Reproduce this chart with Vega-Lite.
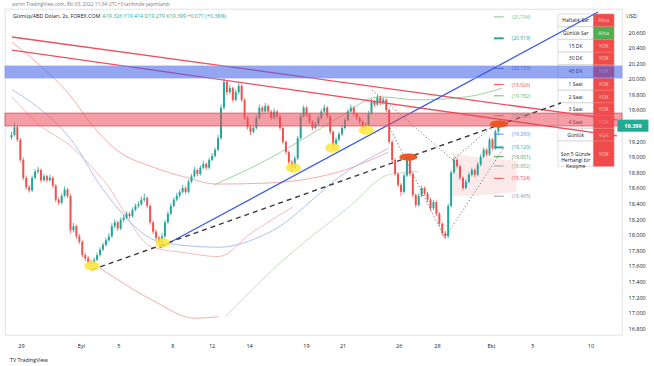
{
"$schema": "https://vega.github.io/schema/vega-lite/v6.json",
"width": 617, "height": 326,
"autosize": {"type": "none"},
"padding": {"left": 5, "top": 9, "right": 32, "bottom": 31},
"background": "#ffffff",
"config": {"view": {"stroke": "#d1d4dc", "strokeWidth": 0.7}, "font": "Open Sans", "axis": {"labelOverlap": false, "labelFontSize": 5.5, "labelColor": "#131722", "ticks": false, "grid": false, "domain": false}},
"datasets": {
"cd": [
{"i":0,"o":19.25,"h":19.32,"l":19.22,"c":19.28},{"i":1,"o":19.28,"h":19.44,"l":19.26,"c":19.38},{"i":2,"o":19.38,"h":19.41,"l":19.19,"c":19.22},{"i":3,"o":19.22,"h":19.24,"l":18.93,"c":18.96},{"i":4,"o":18.96,"h":18.99,"l":18.70,"c":18.73},{"i":5,"o":18.73,"h":18.76,"l":18.58,"c":18.61},{"i":6,"o":18.61,"h":18.64,"l":18.54,"c":18.57},{"i":7,"o":18.57,"h":18.76,"l":18.55,"c":18.73},{"i":8,"o":18.73,"h":18.84,"l":18.71,"c":18.81},{"i":9,"o":18.81,"h":18.87,"l":18.78,"c":18.83},
{"i":10,"o":18.83,"h":18.85,"l":18.67,"c":18.70},{"i":11,"o":18.70,"h":18.78,"l":18.68,"c":18.75},{"i":12,"o":18.75,"h":18.77,"l":18.67,"c":18.70},{"i":13,"o":18.70,"h":18.77,"l":18.68,"c":18.73},{"i":14,"o":18.73,"h":18.75,"l":18.60,"c":18.63},{"i":15,"o":18.63,"h":18.65,"l":18.42,"c":18.45},{"i":16,"o":18.45,"h":18.48,"l":18.38,"c":18.41},{"i":17,"o":18.41,"h":18.53,"l":18.39,"c":18.50},{"i":18,"o":18.50,"h":18.62,"l":18.48,"c":18.58},{"i":19,"o":18.58,"h":18.60,"l":18.47,"c":18.50},
{"i":20,"o":18.50,"h":18.52,"l":18.02,"c":18.06},{"i":21,"o":18.06,"h":18.15,"l":18.03,"c":18.11},{"i":22,"o":18.11,"h":18.13,"l":17.95,"c":17.98},{"i":23,"o":17.98,"h":18.01,"l":17.88,"c":17.91},{"i":24,"o":17.91,"h":17.93,"l":17.71,"c":17.74},{"i":25,"o":17.74,"h":17.77,"l":17.66,"c":17.70},{"i":26,"o":17.70,"h":17.73,"l":17.61,"c":17.65},{"i":27,"o":17.65,"h":17.68,"l":17.56,"c":17.63},{"i":28,"o":17.63,"h":17.71,"l":17.60,"c":17.68},{"i":29,"o":17.68,"h":17.77,"l":17.66,"c":17.74},
{"i":30,"o":17.74,"h":17.84,"l":17.72,"c":17.81},{"i":31,"o":17.81,"h":17.90,"l":17.79,"c":17.87},{"i":32,"o":17.87,"h":17.96,"l":17.85,"c":17.93},{"i":33,"o":17.93,"h":18.02,"l":17.91,"c":17.98},{"i":34,"o":17.98,"h":18.15,"l":17.96,"c":18.11},{"i":35,"o":18.11,"h":18.20,"l":18.08,"c":18.16},{"i":36,"o":18.16,"h":18.18,"l":18.05,"c":18.08},{"i":37,"o":18.08,"h":18.22,"l":18.06,"c":18.19},{"i":38,"o":18.19,"h":18.26,"l":18.16,"c":18.22},{"i":39,"o":18.22,"h":18.30,"l":18.20,"c":18.27},
{"i":40,"o":18.27,"h":18.29,"l":18.21,"c":18.24},{"i":41,"o":18.24,"h":18.35,"l":18.22,"c":18.32},{"i":42,"o":18.32,"h":18.40,"l":18.30,"c":18.37},{"i":43,"o":18.37,"h":18.43,"l":18.34,"c":18.39},{"i":44,"o":18.39,"h":18.49,"l":18.37,"c":18.45},{"i":45,"o":18.45,"h":18.53,"l":18.42,"c":18.47},{"i":46,"o":18.47,"h":18.49,"l":18.34,"c":18.37},{"i":47,"o":18.37,"h":18.39,"l":18.13,"c":18.16},{"i":48,"o":18.16,"h":18.18,"l":18.01,"c":18.04},{"i":49,"o":18.04,"h":18.07,"l":17.93,"c":17.96},
{"i":50,"o":17.96,"h":17.99,"l":17.85,"c":17.91},{"i":51,"o":17.91,"h":18.02,"l":17.88,"c":17.98},{"i":52,"o":17.98,"h":18.19,"l":17.96,"c":18.16},{"i":53,"o":18.16,"h":18.30,"l":18.14,"c":18.27},{"i":54,"o":18.27,"h":18.40,"l":18.25,"c":18.37},{"i":55,"o":18.37,"h":18.48,"l":18.35,"c":18.45},{"i":56,"o":18.45,"h":18.54,"l":18.43,"c":18.50},{"i":57,"o":18.50,"h":18.58,"l":18.47,"c":18.55},{"i":58,"o":18.55,"h":18.64,"l":18.53,"c":18.60},{"i":59,"o":18.60,"h":18.62,"l":18.52,"c":18.55},
{"i":60,"o":18.55,"h":18.71,"l":18.53,"c":18.68},{"i":61,"o":18.68,"h":18.78,"l":18.66,"c":18.75},{"i":62,"o":18.75,"h":18.87,"l":18.73,"c":18.83},{"i":63,"o":18.83,"h":18.85,"l":18.75,"c":18.78},{"i":64,"o":18.78,"h":18.89,"l":18.76,"c":18.86},{"i":65,"o":18.86,"h":18.95,"l":18.84,"c":18.91},{"i":66,"o":18.91,"h":18.93,"l":18.83,"c":18.86},{"i":67,"o":18.86,"h":18.99,"l":18.84,"c":18.96},{"i":68,"o":18.96,"h":19.05,"l":18.94,"c":19.01},{"i":69,"o":19.01,"h":19.12,"l":18.99,"c":19.09},
{"i":70,"o":19.09,"h":19.28,"l":19.07,"c":19.24},{"i":71,"o":19.24,"h":19.67,"l":19.22,"c":19.63},{"i":72,"o":19.63,"h":20.01,"l":19.60,"c":19.96},{"i":73,"o":19.96,"h":19.98,"l":19.79,"c":19.83},{"i":74,"o":19.83,"h":19.92,"l":19.80,"c":19.88},{"i":75,"o":19.88,"h":19.90,"l":19.70,"c":19.73},{"i":76,"o":19.73,"h":19.86,"l":19.71,"c":19.83},{"i":77,"o":19.83,"h":19.95,"l":19.80,"c":19.91},{"i":78,"o":19.91,"h":19.93,"l":19.70,"c":19.73},{"i":79,"o":19.73,"h":19.75,"l":19.47,"c":19.50},
{"i":80,"o":19.50,"h":19.52,"l":19.35,"c":19.38},{"i":81,"o":19.38,"h":19.41,"l":19.28,"c":19.32},{"i":82,"o":19.32,"h":19.40,"l":19.30,"c":19.37},{"i":83,"o":19.37,"h":19.53,"l":19.35,"c":19.50},{"i":84,"o":19.50,"h":19.67,"l":19.48,"c":19.63},{"i":85,"o":19.63,"h":19.65,"l":19.55,"c":19.58},{"i":86,"o":19.58,"h":19.69,"l":19.56,"c":19.65},{"i":87,"o":19.65,"h":19.67,"l":19.55,"c":19.58},{"i":88,"o":19.58,"h":19.60,"l":19.47,"c":19.50},{"i":89,"o":19.50,"h":19.62,"l":19.48,"c":19.58},
{"i":90,"o":19.58,"h":19.60,"l":19.49,"c":19.52},{"i":91,"o":19.52,"h":19.54,"l":19.34,"c":19.37},{"i":92,"o":19.37,"h":19.39,"l":19.16,"c":19.19},{"i":93,"o":19.19,"h":19.21,"l":19.03,"c":19.06},{"i":94,"o":19.06,"h":19.08,"l":18.90,"c":18.93},{"i":95,"o":18.93,"h":18.96,"l":18.80,"c":18.86},{"i":96,"o":18.86,"h":19.01,"l":18.84,"c":18.98},{"i":97,"o":18.98,"h":19.27,"l":18.96,"c":19.24},{"i":98,"o":19.24,"h":19.55,"l":19.22,"c":19.52},{"i":99,"o":19.52,"h":19.66,"l":19.50,"c":19.63},
{"i":100,"o":19.63,"h":19.65,"l":19.51,"c":19.54},{"i":101,"o":19.54,"h":19.56,"l":19.42,"c":19.45},{"i":102,"o":19.45,"h":19.47,"l":19.34,"c":19.37},{"i":103,"o":19.37,"h":19.45,"l":19.35,"c":19.42},{"i":104,"o":19.42,"h":19.53,"l":19.40,"c":19.50},{"i":105,"o":19.50,"h":19.61,"l":19.48,"c":19.58},{"i":106,"o":19.58,"h":19.67,"l":19.56,"c":19.63},{"i":107,"o":19.63,"h":19.65,"l":19.49,"c":19.52},{"i":108,"o":19.52,"h":19.54,"l":19.29,"c":19.32},{"i":109,"o":19.32,"h":19.34,"l":19.09,"c":19.15},
{"i":110,"o":19.15,"h":19.25,"l":19.13,"c":19.22},{"i":111,"o":19.22,"h":19.32,"l":19.20,"c":19.29},{"i":112,"o":19.29,"h":19.40,"l":19.27,"c":19.37},{"i":113,"o":19.37,"h":19.50,"l":19.35,"c":19.47},{"i":114,"o":19.47,"h":19.61,"l":19.45,"c":19.58},{"i":115,"o":19.58,"h":19.67,"l":19.56,"c":19.63},{"i":116,"o":19.63,"h":19.65,"l":19.52,"c":19.55},{"i":117,"o":19.55,"h":19.57,"l":19.47,"c":19.50},{"i":118,"o":19.50,"h":19.52,"l":19.42,"c":19.45},{"i":119,"o":19.45,"h":19.47,"l":19.33,"c":19.37},
{"i":120,"o":19.37,"h":19.44,"l":19.35,"c":19.41},{"i":121,"o":19.41,"h":19.59,"l":19.39,"c":19.56},{"i":122,"o":19.56,"h":19.74,"l":19.54,"c":19.71},{"i":123,"o":19.71,"h":19.73,"l":19.64,"c":19.67},{"i":124,"o":19.67,"h":19.79,"l":19.65,"c":19.76},{"i":125,"o":19.76,"h":19.78,"l":19.66,"c":19.69},{"i":126,"o":19.69,"h":19.76,"l":19.67,"c":19.73},{"i":127,"o":19.73,"h":19.75,"l":19.57,"c":19.60},{"i":128,"o":19.60,"h":19.62,"l":19.16,"c":19.19},{"i":129,"o":19.19,"h":19.21,"l":18.93,"c":18.96},
{"i":130,"o":18.96,"h":18.98,"l":18.75,"c":18.78},{"i":131,"o":18.78,"h":18.80,"l":18.61,"c":18.64},{"i":132,"o":18.64,"h":18.66,"l":18.50,"c":18.55},{"i":133,"o":18.55,"h":18.79,"l":18.53,"c":18.76},{"i":134,"o":18.76,"h":19.00,"l":18.74,"c":18.96},{"i":135,"o":18.96,"h":18.98,"l":18.75,"c":18.78},{"i":136,"o":18.78,"h":18.80,"l":18.48,"c":18.51},{"i":137,"o":18.51,"h":18.53,"l":18.35,"c":18.38},{"i":138,"o":18.38,"h":18.53,"l":18.36,"c":18.50},{"i":139,"o":18.50,"h":18.63,"l":18.48,"c":18.60},
{"i":140,"o":18.60,"h":18.62,"l":18.50,"c":18.53},{"i":141,"o":18.53,"h":18.55,"l":18.42,"c":18.45},{"i":142,"o":18.45,"h":18.47,"l":18.31,"c":18.34},{"i":143,"o":18.34,"h":18.45,"l":18.32,"c":18.42},{"i":144,"o":18.42,"h":18.44,"l":18.24,"c":18.27},{"i":145,"o":18.27,"h":18.29,"l":18.11,"c":18.14},{"i":146,"o":18.14,"h":18.16,"l":17.99,"c":18.02},{"i":147,"o":18.02,"h":18.05,"l":17.95,"c":17.98},{"i":148,"o":17.98,"h":18.40,"l":17.96,"c":18.37},{"i":149,"o":18.37,"h":18.83,"l":18.35,"c":18.80},
{"i":150,"o":18.80,"h":18.99,"l":18.78,"c":18.96},{"i":151,"o":18.96,"h":18.98,"l":18.85,"c":18.88},{"i":152,"o":18.88,"h":18.90,"l":18.70,"c":18.73},{"i":153,"o":18.73,"h":18.75,"l":18.57,"c":18.60},{"i":154,"o":18.60,"h":18.71,"l":18.58,"c":18.68},{"i":155,"o":18.68,"h":18.80,"l":18.66,"c":18.77},{"i":156,"o":18.77,"h":18.86,"l":18.75,"c":18.83},{"i":157,"o":18.83,"h":18.85,"l":18.74,"c":18.77},{"i":158,"o":18.77,"h":18.93,"l":18.75,"c":18.90},{"i":159,"o":18.90,"h":19.03,"l":18.88,"c":19.00},
{"i":160,"o":19.00,"h":19.12,"l":18.98,"c":19.09},{"i":161,"o":19.09,"h":19.11,"l":19.00,"c":19.03},{"i":162,"o":19.03,"h":19.25,"l":19.01,"c":19.22},{"i":163,"o":19.22,"h":19.24,"l":19.08,"c":19.11},{"i":164,"o":19.11,"h":19.35,"l":19.09,"c":19.326},{"i":165,"o":19.326,"h":19.414,"l":19.279,"c":19.399}
],
"ind": [
{"s":"R1","i":0.2,"p":20.47},{"s":"R1","i":8.8,"p":20.2},{"s":"R1","i":20.2,"p":19.77},{"s":"R1","i":26.8,"p":19.43},{"s":"R1","i":35.5,"p":19.09},{"s":"R1","i":47.8,"p":18.87},{"s":"R1","i":58.8,"p":18.74},{"s":"R1","i":69.5,"p":18.65},{"s":"R1","i":84.5,"p":18.66},{"s":"R1","i":97.8,"p":18.7},{"s":"R1","i":111.2,"p":18.81},{"s":"R1","i":127.8,"p":19.06},
{"s":"R2","i":0.2,"p":19.77},{"s":"R2","i":8.8,"p":19.43},{"s":"R2","i":20.2,"p":19.13},{"s":"R2","i":31.2,"p":18.7},{"s":"R2","i":47.8,"p":17.84},{"s":"R2","i":58.8,"p":17.77},{"s":"R2","i":70.2,"p":17.72},{"s":"R2","i":81.2,"p":18.02},{"s":"R2","i":95.5,"p":18.36},
{"s":"BL","i":0.2,"p":19.86},{"s":"BL","i":8.8,"p":19.64},{"s":"BL","i":20.2,"p":19.22},{"s":"BL","i":31.2,"p":18.57},{"s":"BL","i":51.2,"p":17.9},{"s":"BL","i":70.2,"p":17.84},{"s":"BL","i":86.8,"p":18.02},{"s":"BL","i":114.5,"p":18.83},{"s":"BL","i":127.8,"p":19.11},
{"s":"R3","i":26.8,"p":17.65},{"s":"R3","i":34.5,"p":17.46},{"s":"R3","i":47.8,"p":17.16},{"s":"R3","i":62.2,"p":16.93},{"s":"R3","i":70.2,"p":16.95},
{"s":"G2","i":72.5,"p":16.95},{"s":"G2","i":92.2,"p":17.68},{"s":"G2","i":114.5,"p":18.36},{"s":"G2","i":127.8,"p":18.77},{"s":"G2","i":137.8,"p":18.81},
{"s":"G1","i":68.8,"p":18.64},{"s":"G1","i":72.2,"p":18.7},{"s":"G1","i":84.5,"p":18.92},{"s":"G1","i":94.5,"p":19.13},{"s":"G1","i":111.2,"p":19.51},{"s":"G1","i":124.5,"p":19.77},{"s":"G1","i":137.8,"p":19.73},{"s":"G1","i":154.5,"p":19.77},{"s":"G1","i":166.2,"p":19.88}
],
"tl": [
{"g":"A","i":0.2,"p":20.536},{"g":"A","i":205.2,"p":19.472},
{"g":"B","i":0.2,"p":20.369},{"g":"B","i":205.2,"p":19.267},
{"g":"U","i":50.2,"p":17.83},{"g":"U","i":198.8,"p":20.856}
],
"dash": [{"i":27.2,"p":17.55},{"i":186.2,"p":19.69}],
"dot": [
{"g":"a","i":122.2,"p":19.856},{"g":"a","i":149.5,"p":18.959},
{"g":"b","i":149.5,"p":18.959},{"g":"b","i":165.5,"p":19.472},
{"g":"c","i":127.8,"p":19.408},{"g":"c","i":146.8,"p":17.959},
{"g":"d","i":146.8,"p":17.959},{"g":"d","i":166.8,"p":19.113}
],
"bands": [{"b":"red","p1":19.395,"p2":19.56},{"b":"blue","p1":20.01,"p2":20.164}],
"yel": [{"i":27.2,"p":17.6},{"i":51.2,"p":17.895},{"i":95.5,"p":18.856},{"i":108.8,"p":19.113},{"i":120.2,"p":19.34}],
"org": [{"i":134.5,"p":18.997},{"i":165.2,"p":19.42}],
"lv": [{"lab":"(20.794)","p":20.794},{"lab":"(20.519)","p":20.519},{"lab":"(20.133)","p":20.133},{"lab":"(19.926)","p":19.926},{"lab":"(19.782)","p":19.782},{"lab":"(19.527)","p":19.527},{"lab":"(19.290)","p":19.29},{"lab":"(19.120)","p":19.12},{"lab":"(19.001)","p":19.001},{"lab":"(18.882)","p":18.882},{"lab":"(18.724)","p":18.724},{"lab":"(18.495)","p":18.495}],
"ann": [
{"k":"hdr","t":"asrnn TradingView.com, Eki 03, 2022 11:34 UTC+3 tarihinde yayımlandı","i":0.2,"p":20.946},
{"k":"sym","t":"Gümüş/ABD Doları, 2s, FOREX.COM","i":0.5,"p":20.805},
{"k":"ohlc","t":"A19.326  Y19.414  D19.279  K19.399  +0.071 (+0.38%)","i":30.8,"p":20.805},
{"k":"usd","t":"USD","i":208.3,"p":20.805},
{"k":"tv","t":"TV TradingView","i":-0.5,"p":16.395}
],
"cloud": [{"i":149.5,"a":19.05,"b":18.5},{"i":156,"a":19.0,"b":18.5},{"i":163,"a":18.98,"b":18.52},{"i":171.2,"a":18.95,"b":18.55}],
"tb": [
{"pt":20.831,"pb":20.668,"lab":"Haftalık Sar","st":"Altta","g":"r"},
{"pt":20.668,"pb":20.505,"lab":"Günlük Sar","st":"Altta","g":"g"},
{"pt":20.505,"pb":20.342,"lab":"15 DK","st":"YOK","g":"r"},
{"pt":20.342,"pb":20.18,"lab":"30 DK","st":"YOK","g":"r"},
{"pt":20.18,"pb":20.017,"lab":"45 DK","st":"YOK","g":"r"},
{"pt":20.017,"pb":19.854,"lab":"1 Saat","st":"YOK","g":"r"},
{"pt":19.854,"pb":19.691,"lab":"2 Saat","st":"YOK","g":"r"},
{"pt":19.691,"pb":19.528,"lab":"3 Saat","st":"YOK","g":"r"},
{"pt":19.528,"pb":19.365,"lab":"4 Saat","st":"YOK","g":"r"},
{"pt":19.365,"pb":19.202,"lab":"Günlük","st":"YOK","g":"r"},
{"pt":19.202,"pb":18.877,"lab":"Son 5 Günde\nHerhangi bir\nKesişme","st":"YOK","g":"r"}
],
"last": [{"p":19.399,"lab":"19.399"}]
},
"resolve": {"scale": {"color": "independent"}},
"layer": [
{"data": {"name": "cloud"},
 "mark": {"type": "area", "color": "#f6c1c1", "opacity": 0.35},
 "encoding": {
  "x": {"field": "i", "type": "quantitative", "scale": {"domain": [-0.5, 205.2], "nice": false, "zero": false},
   "axis": {"values": [3.2,23.5,36.2,54.5,67.8,80.5,99.8,112.2,131.2,144.2,162.5,176.5,196.2], "tickCount": 40,
    "labelExpr": "datum.value < 12 ? '29' : datum.value < 30 ? 'Eyl' : datum.value < 45 ? '5' : datum.value < 60 ? '8' : datum.value < 74 ? '12' : datum.value < 90 ? '14' : datum.value < 105 ? '19' : datum.value < 120 ? '21' : datum.value < 138 ? '26' : datum.value < 150 ? '28' : datum.value < 170 ? 'Ekt' : datum.value < 185 ? '5' : '10'",
    "title": null, "ticks": false, "domain": false, "grid": false, "labelFontSize": 5.5, "labelColor": "#131722", "labelPadding": 8, "labelFlush": false, "labelOverlap": false}},
  "y": {"field": "a", "type": "quantitative", "scale": {"domain": [16.715, 20.895], "nice": false, "zero": false},
   "axis": {"orient": "right", "values": [16.8,17,17.2,17.4,17.6,17.8,18,18.2,18.4,18.6,18.8,19,19.2,19.6,19.8,20,20.2,20.4,20.6], "tickCount": 40, "format": ".3f", "title": null, "ticks": false, "grid": false, "domain": false, "labelFontSize": 5.5, "labelColor": "#131722", "labelPadding": 6, "labelOverlap": false, "labelFlush": false, "labelBound": false}},
  "y2": {"field": "b"}}},
{"data": {"name": "ind"},
 "mark": {"type": "line", "strokeWidth": 0.9, "interpolate": "monotone"},
 "encoding": {
  "x": {"field": "i", "type": "quantitative", "axis": {"title": null}},
  "y": {"field": "p", "type": "quantitative", "axis": {"title": null, "orient": "right"}},
  "color": {"field": "s", "type": "nominal", "scale": {"domain": ["R1","R2","BL","R3","G2","G1"], "range": ["#f4a3a3","#f7b3b3","#a9b8f2","#f4a3a3","#b9ddbb","#94cc98"]}, "legend": null}}},
{"data": {"name": "cd"},
 "mark": {"type": "rule", "strokeWidth": 0.8},
 "encoding": {
  "x": {"field": "i", "type": "quantitative", "axis": {"title": null}},
  "y": {"field": "l", "type": "quantitative", "axis": {"title": null, "orient": "right"}},
  "y2": {"field": "h"},
  "color": {"condition": {"test": "datum.c >= datum.o", "value": "#26a69a"}, "value": "#ef5350"}}},
{"data": {"name": "cd"},
 "mark": {"type": "bar", "width": 2},
 "encoding": {
  "x": {"field": "i", "type": "quantitative", "axis": {"title": null}},
  "y": {"field": "o", "type": "quantitative", "axis": {"title": null, "orient": "right"}},
  "y2": {"field": "c"},
  "color": {"condition": {"test": "datum.c >= datum.o", "value": "#26a69a"}, "value": "#ef5350"}}},
{"data": {"name": "tb"},
 "mark": {"type": "rect", "fill": "#ffffff", "stroke": "#c9c9c9", "strokeWidth": 0.6},
 "encoding": {
  "x": {"datum": 185.2, "type": "quantitative", "axis": {"title": null}},
  "x2": {"datum": 197.2},
  "y": {"field": "pt", "type": "quantitative", "axis": {"title": null, "orient": "right"}},
  "y2": {"field": "pb"}}},
{"data": {"name": "tb"},
 "mark": {"type": "rect", "stroke": "#f27a7a", "strokeWidth": 0.5},
 "encoding": {
  "x": {"datum": 197.2, "type": "quantitative", "axis": {"title": null}},
  "x2": {"datum": 204.2},
  "y": {"field": "pt", "type": "quantitative", "axis": {"title": null, "orient": "right"}},
  "y2": {"field": "pb"},
  "fill": {"condition": {"test": "datum.g == 'g'", "value": "#4caf50"}, "value": "#ef4b4b"}}},
{"data": {"name": "tb"},
 "transform": [{"calculate": "(datum.pt + datum.pb) / 2", "as": "pm"}],
 "mark": {"type": "text", "fontSize": 5, "color": "#131722", "lineBreak": "\n", "lineHeight": 6, "baseline": "middle"},
 "encoding": {
  "x": {"datum": 191.2, "type": "quantitative", "axis": {"title": null}},
  "y": {"field": "pm", "type": "quantitative", "axis": {"title": null, "orient": "right"}},
  "text": {"field": "lab"}}},
{"data": {"name": "tb"},
 "transform": [{"calculate": "(datum.pt + datum.pb) / 2", "as": "pm"}],
 "mark": {"type": "text", "fontSize": 5, "baseline": "middle"},
 "encoding": {
  "x": {"datum": 200.7, "type": "quantitative", "axis": {"title": null}},
  "y": {"field": "pm", "type": "quantitative", "axis": {"title": null, "orient": "right"}},
  "text": {"field": "st"},
  "color": {"condition": {"test": "datum.g == 'g'", "value": "#d6f5d6"}, "value": "#ffc9c9"}}},
{"data": {"name": "tl"},
 "mark": {"type": "line", "strokeWidth": 1.3},
 "encoding": {
  "x": {"field": "i", "type": "quantitative", "axis": {"title": null}},
  "y": {"field": "p", "type": "quantitative", "axis": {"title": null, "orient": "right"}},
  "color": {"field": "g", "type": "nominal", "scale": {"domain": ["A","B","U"], "range": ["#ef4f5e","#ef4f5e","#3d5fdc"]}, "legend": null}}},
{"data": {"name": "dash"},
 "mark": {"type": "line", "strokeWidth": 1.4, "strokeDash": [5, 4], "color": "#3a3a3a"},
 "encoding": {
  "x": {"field": "i", "type": "quantitative", "axis": {"title": null}},
  "y": {"field": "p", "type": "quantitative", "axis": {"title": null, "orient": "right"}}}},
{"data": {"name": "dot"},
 "mark": {"type": "line", "strokeWidth": 0.9, "strokeDash": [1.2, 2.2], "color": "#666666"},
 "encoding": {
  "x": {"field": "i", "type": "quantitative", "axis": {"title": null}},
  "y": {"field": "p", "type": "quantitative", "axis": {"title": null, "orient": "right"}},
  "detail": {"field": "g"}}},
{"data": {"name": "bands"},
 "mark": {"type": "rect", "fillOpacity": 0.55, "strokeWidth": 0.8},
 "encoding": {
  "y": {"field": "p1", "type": "quantitative", "axis": {"title": null, "orient": "right"}},
  "y2": {"field": "p2"},
  "fill": {"condition": {"test": "datum.b == 'red'", "value": "#ec4d5a"}, "value": "#3d5ce8"},
  "stroke": {"condition": {"test": "datum.b == 'red'", "value": "#e0505e"}, "value": "#8fa2f2"}}},
{"data": {"name": "yel"},
 "mark": {"type": "point", "shape": "M-1,0A1,0.62,0,1,0,1,0A1,0.62,0,1,0,-1,0Z", "size": 225, "filled": true, "color": "#ffe83a", "opacity": 0.85},
 "encoding": {
  "x": {"field": "i", "type": "quantitative", "axis": {"title": null}},
  "y": {"field": "p", "type": "quantitative", "axis": {"title": null, "orient": "right"}}}},
{"data": {"name": "org"},
 "mark": {"type": "point", "shape": "M-1,0A1,0.4,0,1,0,1,0A1,0.4,0,1,0,-1,0Z", "size": 330, "filled": true, "color": "#e8531d", "opacity": 0.95},
 "encoding": {
  "x": {"field": "i", "type": "quantitative", "axis": {"title": null}},
  "y": {"field": "p", "type": "quantitative", "axis": {"title": null, "orient": "right"}}}},
{"data": {"name": "lv"},
 "mark": {"type": "rule"},
 "encoding": {
  "x": {"datum": 163.5, "type": "quantitative", "axis": {"title": null}},
  "x2": {"datum": 166.8},
  "y": {"field": "p", "type": "quantitative", "axis": {"title": null, "orient": "right"}},
  "strokeWidth": {"condition": {"test": "datum.p == 20.519 || datum.p == 19.12", "value": 2}, "value": 1},
  "color": {"field": "lab", "type": "nominal", "scale": {"domain": ["(20.794)","(20.519)","(20.133)","(19.926)","(19.782)","(19.527)","(19.290)","(19.120)","(19.001)","(18.882)","(18.724)","(18.495)"], "range": ["#81c784","#26a69a","#4a68d8","#ef5350","#66bb6a","#8a8a8a","#5b8def","#26a69a","#43a047","#8fa88f","#ef5350","#9598a1"]}, "legend": null}}},
{"data": {"name": "lv"},
 "mark": {"type": "text", "fontSize": 5, "align": "left", "baseline": "middle"},
 "encoding": {
  "x": {"datum": 169.5, "type": "quantitative", "axis": {"title": null}},
  "y": {"field": "p", "type": "quantitative", "axis": {"title": null, "orient": "right"}},
  "text": {"field": "lab"},
  "color": {"field": "lab", "type": "nominal", "scale": {"domain": ["(20.794)","(20.519)","(20.133)","(19.926)","(19.782)","(19.527)","(19.290)","(19.120)","(19.001)","(18.882)","(18.724)","(18.495)"], "range": ["#81c784","#26a69a","#4a68d8","#ef5350","#66bb6a","#8a8a8a","#5b8def","#26a69a","#43a047","#8fa88f","#ef5350","#9598a1"]}, "legend": null}}},
{"data": {"name": "ann"},
 "mark": {"type": "text", "align": "left", "baseline": "middle"},
 "encoding": {
  "x": {"field": "i", "type": "quantitative", "axis": {"title": null}},
  "y": {"field": "p", "type": "quantitative", "axis": {"title": null, "orient": "right"}},
  "text": {"field": "t"},
  "size": {"condition": {"test": "datum.k == 'hdr'", "value": 4.8}, "value": 5.3},
  "color": {"field": "k", "type": "nominal", "scale": {"domain": ["hdr","sym","ohlc","usd","tv"], "range": ["#787b86","#131722","#26a69a","#131722","#131722"]}, "legend": null}}},
{"data": {"name": "last"},
 "mark": {"type": "point", "shape": "M-1,-0.39H1V0.39H-1Z", "size": 961, "filled": true, "color": "#22ab94", "opacity": 1},
 "encoding": {
  "x": {"datum": 210.6, "type": "quantitative", "axis": {"title": null}},
  "y": {"field": "p", "type": "quantitative", "axis": {"title": null, "orient": "right"}}}},
{"data": {"name": "last"},
 "mark": {"type": "text", "fontSize": 5.5, "color": "#ffffff", "fontWeight": "bold", "baseline": "middle"},
 "encoding": {
  "x": {"datum": 210.6, "type": "quantitative", "axis": {"title": null}},
  "y": {"field": "p", "type": "quantitative", "axis": {"title": null, "orient": "right"}},
  "text": {"field": "lab"}}}
]
}
